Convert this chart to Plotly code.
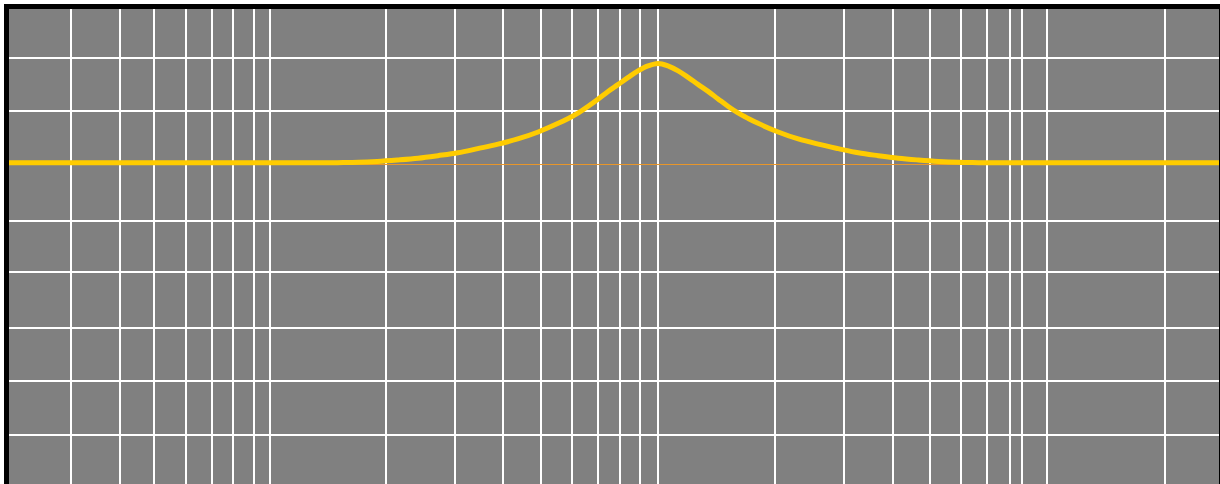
import plotly.graph_objects as go

# EQ response: frequency (Hz) and gain (dB)
freq_hz = [10, 30, 50, 70, 75, 85, 95, 107, 121, 136, 153, 172, 194, 218,
           246, 277, 294, 312, 330, 351, 372, 395, 419, 444, 471, 500,
           530, 563, 597, 633, 672, 713, 757, 802, 852, 903, 1017, 1145,
           1289, 1451, 1633, 1838, 2069, 2330, 2623, 2952, 3323, 3500,
           5000, 10000, 20000]
gain_db = [0.10, 0.10, 0.10, 0.10, 0.11, 0.13, 0.18, 0.26, 0.36, 0.50, 0.66,
           0.89, 1.14, 1.43, 1.82, 2.30, 2.57, 2.88, 3.24, 3.66, 4.08, 4.47,
           4.86, 5.22, 5.50, 5.64,
           5.50, 5.22, 4.86, 4.47, 4.08, 3.66, 3.24, 2.88, 2.57, 2.30, 1.82,
           1.43, 1.14, 0.89, 0.66, 0.50, 0.36, 0.26, 0.18, 0.13, 0.11, 0.10,
           0.10, 0.10, 0.10]

# grid positions
x_grid_hz = [15.5, 20.8, 25.4, 30.6, 35.8, 40.5, 45.9, 50.3,
             100, 150, 200, 250, 300, 350, 400, 450, 500,
             1000, 1500, 2000, 2500, 3000, 3500, 4000, 4300, 5000, 10000]
y_grid_db = [5.93, 2.97, -3.14, -5.99, -9.10, -12.03, -15.07]

x_range_log = [1.032, 4.142]
y_range_db = [-17.79, 8.67]

fig = go.Figure()
fig.add_trace(go.Scatter(
    x=freq_hz, y=gain_db, mode="lines",
    line=dict(color="#FFCC00", width=5, shape="spline", smoothing=1.0),
    hoverinfo="skip", showlegend=False,
))

fig.update_layout(
    width=1220, height=484,
    margin=dict(l=9, r=0, t=9, b=0, pad=0),
    paper_bgcolor="#FFFFFF",
    plot_bgcolor="#808080",
    showlegend=False,
)
fig.update_xaxes(
    type="log", range=x_range_log, side="top", tickmode="array",
    tickvals=x_grid_hz, showticklabels=False, ticks="", showgrid=True,
    gridcolor="#FFFFFF", gridwidth=1.5, zeroline=False, showline=True,
    linecolor="#000000", linewidth=5, mirror=False,
)
fig.update_yaxes(
    range=y_range_db, tickmode="array", tickvals=y_grid_db,
    showticklabels=False, ticks="", showgrid=True, gridcolor="#FFFFFF",
    gridwidth=1.5, zeroline=True, zerolinecolor="#E8962A", zerolinewidth=1.2,
    showline=True, linecolor="#000000", linewidth=5, mirror=False,
)

# right-hand frame edge
fig.add_shape(type="line", xref="paper", yref="paper", x0=1, x1=1, y0=0, y1=1,
              line=dict(color="#000000", width=2), layer="above")

fig.write_html("out.html")
